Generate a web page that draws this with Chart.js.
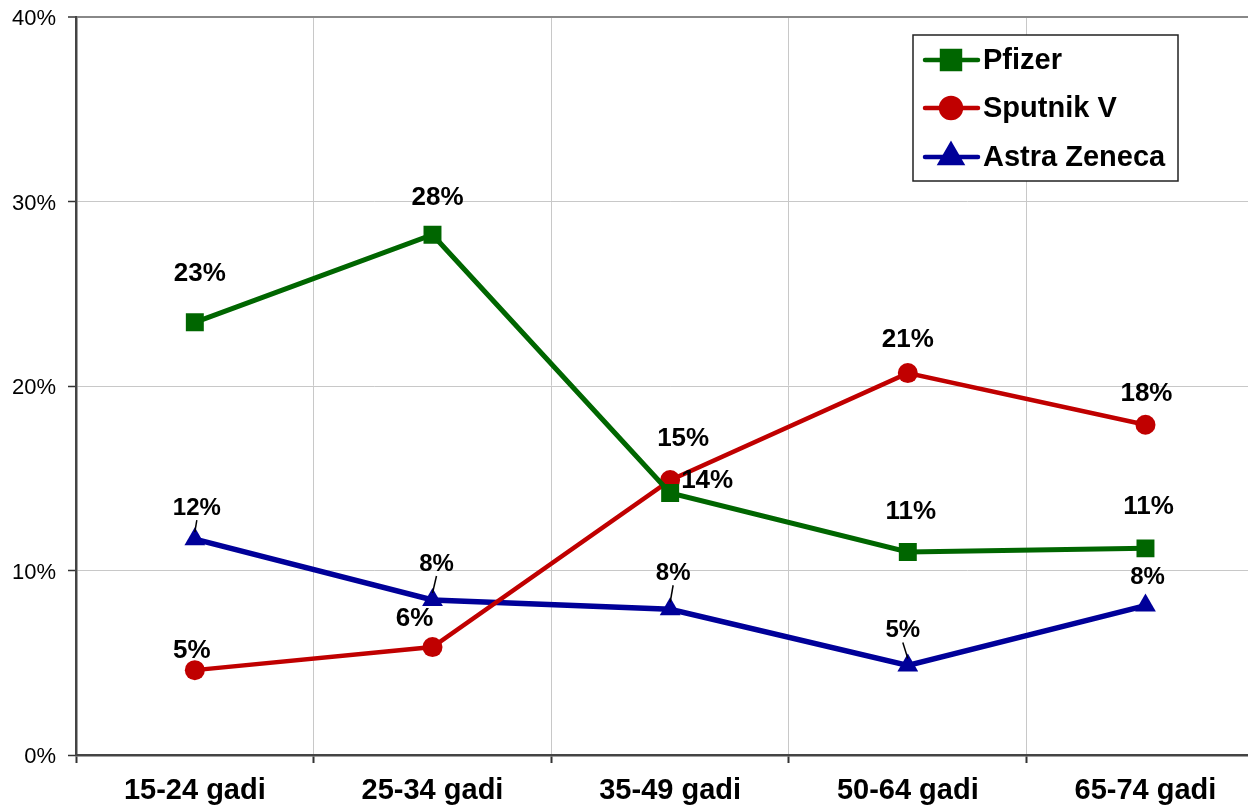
<!DOCTYPE html>
<html>
<head>
<meta charset="utf-8">
<script src="https://cdn.jsdelivr.net/npm/chart.js@4/dist/chart.umd.min.js"></script>
<style>
html,body{margin:0;padding:0;background:#fff;overflow:hidden;}
#c{position:absolute;left:0;top:0;}
</style>
</head>
<body>
<canvas id="c" width="1277" height="806" style="width:1277px;height:806px"></canvas>
<script>
const categories = ['15-24 gadi','25-34 gadi','35-49 gadi','50-64 gadi','65-74 gadi'];
const pfizer  = [23.45, 28.2, 14.2, 11.0, 11.2];
const sputnik = [4.6, 5.85, 14.9, 20.7, 17.9];
const astra   = [11.7, 8.4, 7.9, 4.85, 8.1];
const yTicks  = [0, 10, 20, 30, 40];
const seriesNames = ['Pfizer','Sputnik V','Astra Zeneca'];

const FONT = '"Liberation Sans", Arial, sans-serif';

// label placement (offsets from each point), styling only
const labelStyle = [
  {font:'bold 26px '+FONT, off:[[5,-49],[5,-37],[37,-12],[3,-40],[3,-42]], lead:[false,false,false,false,false]},
  {font:'bold 26px '+FONT, off:[[-3,-19],[-18,-28],[13,-41],[0,-33],[1,-31]], lead:[false,false,false,false,false]},
  {font:'bold 24px '+FONT, off:[[2,-31],[4,-36],[3,-36],[-5,-35],[2,-28]], lead:[true,true,true,true,false]}
];

const dataLabels = {
  id:'dataLabels',
  afterDatasetsDraw(chart){
    const ctx = chart.ctx;
    ctx.save();
    chart.data.datasets.forEach((ds, di) => {
      const meta = chart.getDatasetMeta(di);
      const st = labelStyle[di];
      meta.data.forEach((pt, i) => {
        const v = ds.data[i];
        const [dx, dy] = st.off[i];
        const lx = pt.x + dx, ly = pt.y + dy;
        if (st.lead[i]) {
          ctx.strokeStyle = '#000';
          ctx.lineWidth = 1.5;
          ctx.beginPath();
          ctx.moveTo(lx, ly + 12);
          ctx.lineTo(pt.x, pt.y - 7);
          ctx.stroke();
        }
        ctx.font = st.font;
        ctx.fillStyle = '#000';
        ctx.textAlign = 'center';
        ctx.textBaseline = 'middle';
        ctx.fillText(Math.round(v) + '%', lx, ly);
      });
    });
    ctx.restore();
  }
};

const boxLegend = {
  id:'boxLegend',
  afterDraw(chart){
    const ctx = chart.ctx;
    const x0 = 913, y0 = 35, w = 265, h = 146;
    ctx.save();
    ctx.fillStyle = '#fff';
    ctx.fillRect(x0, y0, w, h);
    ctx.strokeStyle = '#222';
    ctx.lineWidth = 1.5;
    ctx.strokeRect(x0, y0, w, h);
    const rows = [60, 108, 157];
    chart.data.datasets.forEach((ds, di) => {
      const y = rows[di];
      ctx.strokeStyle = ds.borderColor;
      ctx.lineWidth = 4.5;
      ctx.lineCap = 'round';
      ctx.beginPath();
      ctx.moveTo(925, y); ctx.lineTo(978, y);
      ctx.stroke();
      ctx.fillStyle = ds.borderColor;
      Chart.helpers.drawPoint(ctx, {pointStyle: ds.pointStyle, radius: ds.pointRadius, borderWidth: 1}, 951, y);
      ctx.fill();
      ctx.fillStyle = '#000';
      ctx.font = 'bold 29px ' + FONT;
      ctx.textAlign = 'left';
      ctx.textBaseline = 'middle';
      ctx.fillText(ds.label, 983, y + 1);
    });
    ctx.restore();
  }
};

new Chart(document.getElementById('c'), {
  type:'line',
  data:{
    labels: categories,
    datasets:[
      {label:seriesNames[0], data:pfizer, borderColor:'#006600', backgroundColor:'#006600', borderWidth:5,
       pointStyle:'rect', pointRadius:12.7, pointBorderWidth:0, tension:0},
      {label:seriesNames[1], data:sputnik, borderColor:'#c00000', backgroundColor:'#c00000', borderWidth:4.5,
       pointStyle:'circle', pointRadius:10, pointBorderWidth:0, tension:0},
      {label:seriesNames[2], data:astra, borderColor:'#000099', backgroundColor:'#000099', borderWidth:5.5,
       pointStyle:'triangle', pointRadius:12, pointBorderWidth:0, tension:0}
    ]
  },
  options:{
    responsive:false,
    animation:false,
    devicePixelRatio:1,
    layout:{padding:{top:17,left:0,right:0,bottom:0}},
    plugins:{legend:{display:false}, tooltip:{enabled:false}},
    scales:{
      x:{
        type:'category',
        offset:true,
        afterFit(s){ s.height = 51; s.paddingLeft = 0; s.paddingRight = 0; s.paddingTop = 0; s.paddingBottom = 0; },
        grid:{offset:true, color:'#c8c8c8', lineWidth:1, tickLength:8, tickColor:'#333', tickWidth:2},
        border:{color:'#444', width:2.5},
        ticks:{color:'#000', font:{family:FONT, size:29, weight:'bold'}, padding:11, maxRotation:0}
      },
      y:{
        min:0, max:40,
        afterFit(s){ s.width = 76; s.paddingTop = 0; s.paddingBottom = 0; s.paddingLeft = 0; s.paddingRight = 0; },
        afterBuildTicks(s){ s.ticks = yTicks.map(v => ({value:v})); },
        grid:{
          color:(c)=> c.tick && c.tick.value===40 ? '#888' : '#c8c8c8',
          lineWidth:(c)=> c.tick && c.tick.value===40 ? 2 : 1,
          tickLength:8, tickColor:'#333', tickWidth:1.5
        },
        border:{color:'#444', width:2.5},
        ticks:{color:'#000', font:{family:FONT, size:22}, padding:12, labelOffset:2, callback:(v)=> v + '%'}
      }
    }
  },
  plugins:[dataLabels, boxLegend]
});
</script>
</body>
</html>
